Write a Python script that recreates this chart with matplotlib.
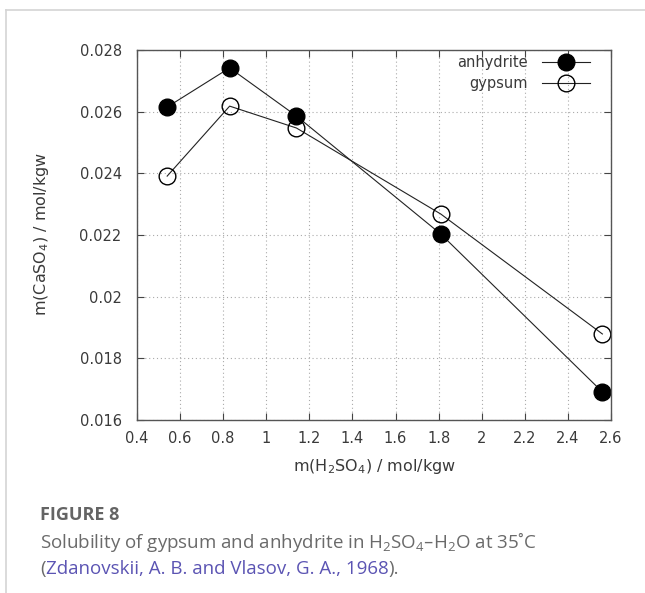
import matplotlib
matplotlib.use("Agg")
import matplotlib.pyplot as plt
from matplotlib.lines import Line2D

# ---- data ----
h2so4 = [0.54, 0.83, 1.14, 1.81, 2.56]
anhydrite = [0.02615, 0.02742, 0.02586, 0.02203, 0.01691]
gypsum = [0.02391, 0.02618, 0.02547, 0.02268, 0.01879]
xticks = [0.4, 0.6, 0.8, 1.0, 1.2, 1.4, 1.6, 1.8, 2.0, 2.2, 2.4, 2.6]
xticklabels = ["0.4", "0.6", "0.8", "1", "1.2", "1.4", "1.6", "1.8", "2", "2.2", "2.4", "2.6"]
yticks = [0.016, 0.018, 0.020, 0.022, 0.024, 0.026, 0.028]
yticklabels = ["0.016", "0.018", "0.02", "0.022", "0.024", "0.026", "0.028"]

plt.rcParams['font.family'] = ['DejaVu Sans']
plt.rcParams['mathtext.default'] = 'regular'

W, H = 645, 593
fig = plt.figure(figsize=(W / 100, H / 100), dpi=100)
fig.patch.set_facecolor('white')

# page frame lines
fig.add_artist(Line2D([6 / W, 1], [1 - 10 / H, 1 - 10 / H], color='#d4d4d4', lw=1.2))
fig.add_artist(Line2D([6 / W, 6 / W], [0, 1 - 10 / H], color='#d4d4d4', lw=1.2))

ax = fig.add_axes([137 / W, 1 - 420 / H, (611 - 137) / W, (420 - 50) / H])
ax.set_xlim(0.4, 2.6)
ax.set_ylim(0.016, 0.028)

ax.plot(h2so4, anhydrite, color='#222222', lw=0.8, marker='o', ms=12,
        mfc='black', mec='black', label='anhydrite')
ax.plot(h2so4, gypsum, color='#222222', lw=0.8, marker='o', ms=12,
        mfc='none', mec='black', mew=1.0, label='gypsum')

ax.set_xticks(xticks)
ax.set_xticklabels(xticklabels)
ax.set_yticks(yticks)
ax.set_yticklabels(yticklabels)
ax.tick_params(direction='in', length=5, width=0.8, color='#444444',
               top=True, right=True, labelsize=10.5, labelcolor='#3a3a3a')
ax.tick_params(axis='y', pad=11)
ax.tick_params(axis='x', pad=8)
ax.grid(True, color='#aaaaaa', lw=0.8, linestyle=(0, (1, 2.5)))
for s in ax.spines.values():
    s.set_color('#555555')
    s.set_linewidth(1.0)

ax.set_xlabel('m(H$_2$SO$_4$) / mol/kgw', fontsize=11.5, color='#3a3a3a')
ax.set_ylabel('m(CaSO$_4$) / mol/kgw', fontsize=11.5, color='#3a3a3a')
ax.xaxis.set_label_coords(0.5, -0.100)
ax.yaxis.set_label_coords(-0.182, 0.503)

leg = ax.legend(loc='upper right', markerfirst=False, frameon=False,
                fontsize=10.5, handlelength=3.3, handletextpad=1.0,
                labelspacing=0.4, borderaxespad=0.0,
                bbox_to_anchor=(1 - 15 / 474, 1 + 1 / 370),
                labelcolor='#3a3a3a')

# caption
cap_font = ['Open Sans', 'DejaVu Sans']
fig.text(40 / W, 1 - 520 / H, 'FIGURE 8', fontsize=13, fontweight='bold',
         color='#646464', family=cap_font, va='baseline', ha='left')
fig.text(40 / W, 1 - 548 / H, 'Solubility of gypsum and anhydrite in H$_2$SO$_4$\u2013H$_2$O at 35\u02daC',
         fontsize=13.5, color='#6a6a6a', family=cap_font, va='baseline', ha='left')

fig.canvas.draw()
r = fig.canvas.get_renderer()
x = 40 / W
for txt, col in [('(', '#6a6a6a'), ('Zdanovskii, A. B. and Vlasov, G. A., 1968', '#5b54b3'), (').', '#6a6a6a')]:
    t = fig.text(x, 1 - 574 / H, txt, fontsize=13.5, color=col, family=cap_font,
                 va='baseline', ha='left')
    bb = t.get_window_extent(renderer=r)
    x = (bb.x1) / W

fig.savefig('out.png', dpi=100, facecolor='white')
